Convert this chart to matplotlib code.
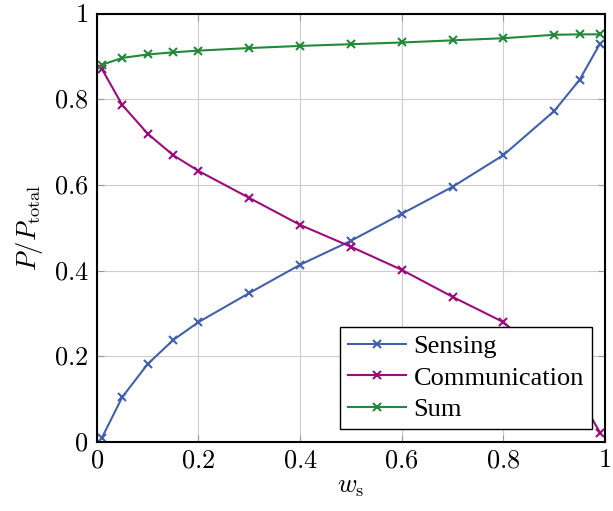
import numpy as np
import matplotlib.pyplot as plt

plt.rcParams['font.family'] = ['Liberation Serif', 'DejaVu Serif']
plt.rcParams['mathtext.fontset'] = 'cm'

ws = [0.01, 0.05, 0.1, 0.15, 0.2, 0.3, 0.4, 0.5, 0.6, 0.7, 0.8, 0.9, 0.95, 0.99]
sensing = [0.01, 0.105, 0.182, 0.238, 0.28, 0.348, 0.414, 0.47, 0.533, 0.596, 0.67, 0.773, 0.846, 0.93]
comm = [0.871, 0.787, 0.72, 0.67, 0.633, 0.57, 0.507, 0.456, 0.402, 0.339, 0.28, 0.178, 0.106, 0.022]
total = [0.881, 0.897, 0.905, 0.91, 0.914, 0.92, 0.925, 0.929, 0.933, 0.938, 0.943, 0.951, 0.952, 0.952]
ticks = [0, 0.2, 0.4, 0.6, 0.8, 1]
tick_labels = ['$0$', '$0.2$', '$0.4$', '$0.6$', '$0.8$', '$1$']

fig = plt.figure(figsize=(6.13, 5.11), dpi=100)
ax = fig.add_axes([0.158, 0.135, 0.829, 0.838])

kw = dict(marker='x', markersize=6, markeredgewidth=1.5, linewidth=1.5)
ax.plot(ws, sensing, color='#4161ad', label='Sensing', **kw)
ax.plot(ws, comm, color='#9c0c7e', label='Communication', **kw)
ax.plot(ws, total, color='#23883b', label='Sum', **kw)

ax.set_xlim(0, 1)
ax.set_ylim(0, 1)
ax.set_xticks(ticks)
ax.set_yticks(ticks)
ax.set_xticklabels(tick_labels)
ax.set_yticklabels(tick_labels)
ax.tick_params(direction='in', length=5, top=True, right=True, color='#999999',
               labelsize=19, pad=6)
ax.grid(True, color='#cccccc', linewidth=0.8)
ax.set_axisbelow(True)
for s in ax.spines.values():
    s.set_linewidth(1.5)

ax.set_xlabel(r'$w_{\mathrm{s}}$', fontsize=19, labelpad=3)
ax.set_ylabel(r'$P/P_{\mathrm{total}}$', fontsize=19, labelpad=6)

leg = ax.legend(loc='lower right', fontsize=19, fancybox=False, framealpha=1,
                edgecolor='black', handlelength=2.2, borderpad=0.3,
                labelspacing=0.3, handletextpad=0.3, borderaxespad=0.5)
leg.get_frame().set_linewidth(1.0)

fig.savefig('out.png', dpi=100)
